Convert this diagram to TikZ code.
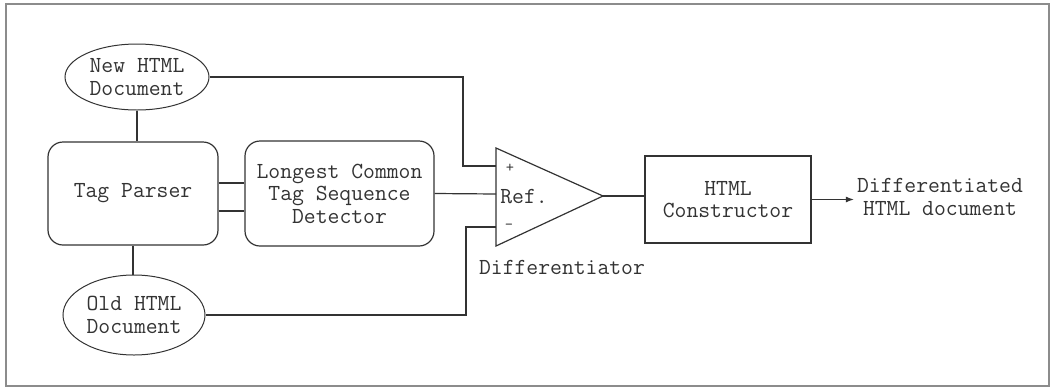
\documentclass[tikz,border=0pt]{standalone}
\usepackage{fontspec}
\usetikzlibrary{shapes.geometric,arrows.meta,calc}
\definecolor{ink}{HTML}{333333}
\definecolor{framegray}{HTML}{8C8C8C}
\begin{document}
\begin{tikzpicture}[x=1pt,y=-1pt,
  every node/.style={font=\ttfamily\fontsize{23}{22.5}\selectfont, text=ink, align=center, inner sep=0pt},
  doc/.style={draw=ink, ellipse, line width=1pt},
  blk/.style={draw=ink, line width=1.2pt},
  wire/.style={draw=ink, line width=1.2pt},
  small/.style={font=\ttfamily\fontsize{16}{16}\selectfont}]
\useasboundingbox (0,0) rectangle (1052,389);
% outer frame
\draw[framegray, line width=1.6pt] (6,4) rectangle (1049,386);

% documents and processing blocks
\node[doc, minimum width=144pt, minimum height=66pt] (new) at (137,77) {New HTML\\Document};
\node[doc, minimum width=142pt, minimum height=80pt] (old) at (134,315) {Old HTML\\Document};
\node[blk, rounded corners=15pt, minimum width=170pt, minimum height=103pt] (tag) at (133,193.5) {Tag Parser};
\node[blk, rounded corners=15pt, minimum width=189pt, minimum height=105pt] (lcs) at (339.5,193.5) {Longest Common\\Tag Sequence\\Detector};
\node[blk, minimum width=166pt, minimum height=87pt] (con) at (728,199.5) {HTML\\Constructor};
\node[inner sep=3pt] (out) at (940,197) {Differentiated\\HTML document};

% differentiator triangle
\coordinate (tl) at (496,148);
\coordinate (bl) at (496,246);
\coordinate (tip) at (603,196);
\coordinate (inP) at (496,166);
\coordinate (inR) at (496,194);
\coordinate (inM) at (496,227);
\coordinate (jP) at (463,166);
\coordinate (jM) at (466,227);
\draw[wire] (tl) -- (tip) -- (bl) -- cycle;
\node[small] (plus) at (510,168) {+};
\node[small] (minus) at (509,227) {-};
\node (ref) at (524,197) {Ref.};
\node (dlabel) at (562,267) {Differentiator};

% connectors
\draw[wire] (new.south) -- (new.south |- tag.north);
\draw[wire] (tag.south) -- (tag.south |- old.north);
\draw[wire] ([yshift=10.5pt]tag.east) -- ([yshift=10.5pt]tag.east -| lcs.west);
\draw[wire] ([yshift=-17.5pt]tag.east) -- ([yshift=-17.5pt]tag.east -| lcs.west);
\draw[wire] (new.east) -| (jP) -- (inP);
\draw[wire] (old.east) -| (jM) -- (inM);
\draw[wire] (lcs.east) -- (inR);
\draw[wire] (tip) -- (tip -| con.west);
\draw[wire, -{Latex[length=8pt,width=6pt]}] (con.east) -- (con.east -| out.west);
\end{tikzpicture}
\end{document}
